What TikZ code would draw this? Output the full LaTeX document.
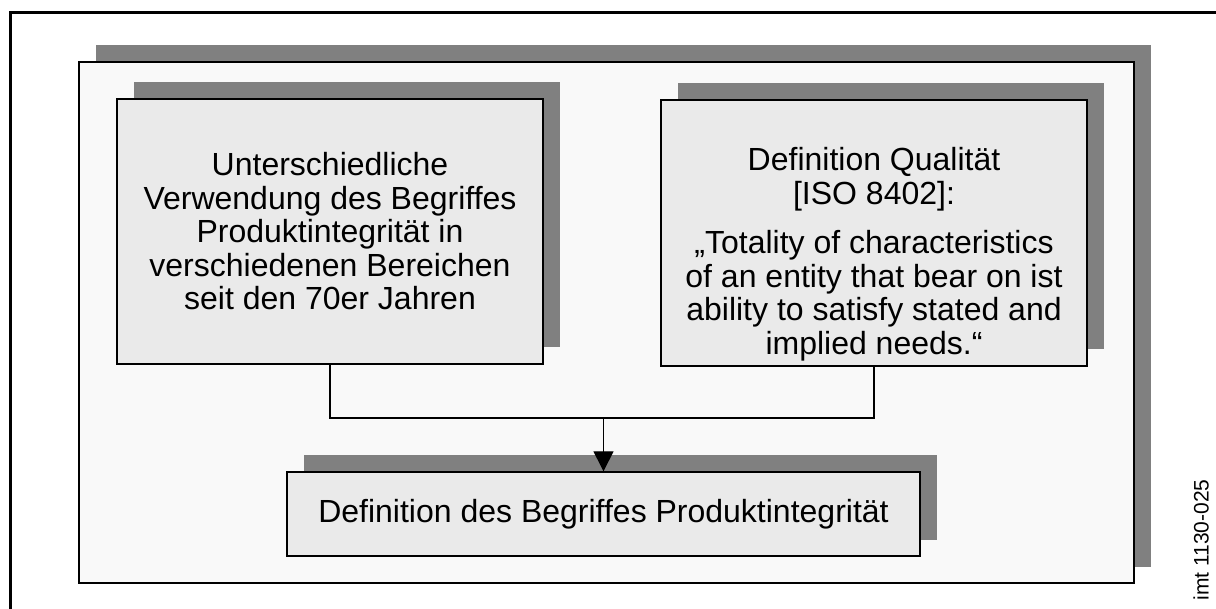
\documentclass[tikz,border=0pt]{standalone}
\usepackage{fontspec}
\setmainfont{Liberation Sans}
\usetikzlibrary{shadows,arrows.meta}
\definecolor{shadowgray}{HTML}{808080}
\definecolor{boxgray}{HTML}{EAEAEA}
\definecolor{panelgray}{HTML}{F9F9F9}
\begin{document}
\begin{tikzpicture}[x=1pt,y=-1pt,
    shade/.style={general shadow={fill=shadowgray,shadow xshift=16.5pt,shadow yshift=16.5pt}},
    textbox/.style={draw,fill=boxgray,line width=1.4pt,shade,inner sep=0pt,align=center,
                    font=\fontsize{32}{33.5}\selectfont},
    link/.style={line width=1.4pt}]
    \useasboundingbox (0,0) rectangle (1216,609);
    \draw[line width=3pt] (10.5,609) -- (10.5,13) -- (1216,13);
    \node[draw,fill=panelgray,line width=1.6pt,shade,inner sep=0pt,
          minimum width=1055pt,minimum height=521pt] (panel) at (606.5,322.5) {};
    \node[textbox,minimum width=426pt,minimum height=265pt] (usage) at (330,231.5)
        {Unterschiedliche\\Verwendung des Begriffes\\Produktintegrität in\\
         verschiedenen Bereichen\\seit den 70er Jahren};
    \node[textbox,minimum width=426pt,minimum height=266pt] (iso) at (874,233)
        {\rule{0pt}{66pt}Definition Qualität\\{}[ISO 8402]:\\[16pt]
         „Totality of characteristics\\of an entity that bear on ist\\
         ability to satisfy stated and\\implied needs.“};
    \node[textbox,minimum width=633pt,minimum height=84pt] (result) at (603.5,514)
        {Definition des Begriffes Produktintegrität};
    \coordinate (join) at (603.5,418);
    \draw[link] (usage.south) |- (join) -| (iso.south);
    \draw[link,-{Triangle[width=20pt,length=20pt]}] (join) -- (result.north);
    \node[rotate=90,font=\fontsize{21}{24}\selectfont] (tag) at (1201,540) {imt 1130-025};
\end{tikzpicture}
\end{document}
